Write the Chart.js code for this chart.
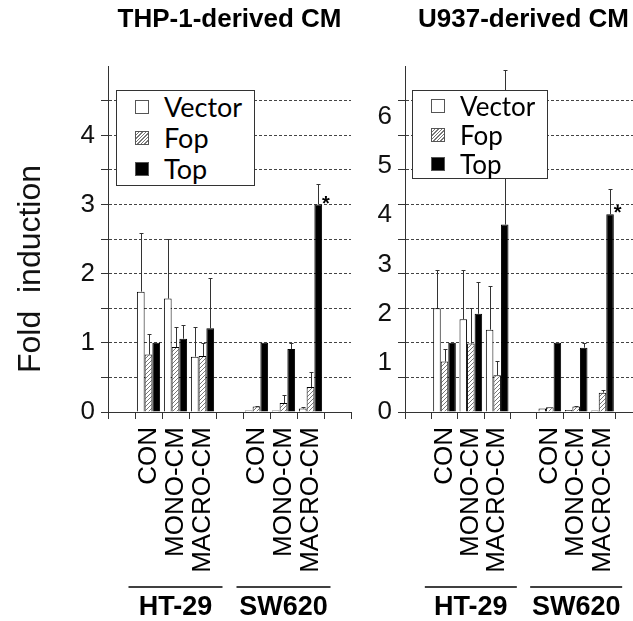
<!DOCTYPE html>
<html lang="en">
<head>
<meta charset="utf-8">
<title>Fold induction - THP-1 / U937 derived CM</title>
<script src="https://cdn.jsdelivr.net/npm/chart.js"></script>
<style>
    html, body {
        margin: 0;
        padding: 0;
        background: #fff;
        overflow: hidden;
    }
    #wrap {
        position: relative;
        width: 633px;
        height: 621px;
        overflow: hidden;
        font-family: 'Liberation Sans', Arial, sans-serif;
    }
    canvas {
        position: absolute;
        top: 0;
    }
    #chartL { left: 0; }
    #chartR { left: 360px; }
    .ytitle {
        position: absolute;
        left: -121px;
        top: 253px;
        width: 300px;
        height: 32px;
        line-height: 32px;
        font-size: 32px;
        text-align: center;
        white-space: pre;
        color: #111;
        transform: rotate(-90deg);
    }
    .legend {
        position: absolute;
        background: #fff;
        border: 1px solid #333;
        box-sizing: border-box;
        font-family: Lato, 'Open Sans', sans-serif;
        color: #000;
    }
    .legend-item {
        display: flex;
        align-items: center;
    }
    .legend-color {
        width: 14px;
        height: 14px;
        border: 1px solid #555;
        box-sizing: border-box;
        margin-right: 15px;
    }
</style>
</head>
<body>
<div id="wrap">
    <canvas id="chartL" width="391" height="621"></canvas>
    <canvas id="chartR" width="322" height="621"></canvas>
    <div class="ytitle">Fold  induction</div>
    <div class="legend" id="legendL" style="left:116px;top:90px;width:139px;height:96px;padding:0 0 0 18px;font-size:27px;"></div>
    <div class="legend" id="legendR" style="left:412px;top:90px;width:136px;height:89px;padding:0 0 0 18px;font-size:26px;"></div>
</div>

<script>
// categories: empty slots at the ends and between the two cell lines
const categories = ['', 'CON', 'MONO-CM', 'MACRO-CM', '', 'CON', 'MONO-CM', 'MACRO-CM', ''];
const seriesNames = ['Vector', 'Fop', 'Top'];
const groupNames = ['HT-29', 'SW620'];
const groupSpans = [[1, 3], [5, 7]];

// THP-1-derived CM
const vecL    = [null, 1.74, 1.64, 0.80, null, 0.02, 0.02, 0.05, null];
const vecErrL = [null, 0.85, 0.86, 0.43, null, 0, 0, 0.02, null];
const fopL    = [null, 0.83, 0.94, 0.81, null, 0.08, 0.13, 0.36, null];
const fopErrL = [null, 0.30, 0.29, 0.19, null, 0.01, 0.11, 0.22, null];
const topL    = [null, 1.00, 1.06, 1.21, null, 1.00, 0.91, 3.00, null];
const topErrL = [null, 0, 0.20, 0.73, null, 0, 0.09, 0.29, null];
const starsL  = [7];

// U937-derived CM
const vecR    = [null, 1.50, 1.34, 1.19, null, 0.05, 0.03, 0.02, null];
const vecErrR = [null, 0.55, 0.72, 0.63, null, 0, 0, 0, null];
const fopR    = [null, 0.73, 0.99, 0.53, null, 0.07, 0.08, 0.28, null];
const fopErrR = [null, 0.18, 0.52, 0.21, null, 0, 0.01, 0.04, null];
const topR    = [null, 1.00, 1.42, 2.71, null, 1.00, 0.93, 2.86, null];
const topErrR = [null, 0, 0.46, 2.23, null, 0, 0.07, 0.36, null];
const starsR  = [7];

// tick labels
const leftTickLabels = [0, 1, 2, 3, 4];
const rightTickLabels = [0, 1, 2, 3, 4, 5, 6];
const yMax = 5;
const yStep = 0.5;
// the printed labels on the U937 panel are not spaced like its gridlines
const rightLabelMax = 7.03;

Chart.defaults.font.family = "'Liberation Sans', Arial, sans-serif";
Chart.defaults.color = '#111';

function makeHatch() {
    const c = document.createElement('canvas');
    c.width = 4; c.height = 4;
    const g = c.getContext('2d');
    g.fillStyle = '#fff';
    g.fillRect(0, 0, 4, 4);
    g.strokeStyle = '#777';
    g.lineWidth = 1;
    g.beginPath();
    g.moveTo(0, 4); g.lineTo(4, 0);
    g.moveTo(-1, 1); g.lineTo(1, -1);
    g.moveTo(3, 5); g.lineTo(5, 3);
    g.stroke();
    return g.createPattern(c, 'repeat');
}
const hatch = makeHatch();

// upper error bars + significance stars
const errorBarPlugin = {
    id: 'errorBars',
    afterDatasetsDraw(chart, args, opts) {
        const ctx = chart.ctx;
        const y = chart.scales.y;
        ctx.save();
        ctx.strokeStyle = '#333';
        ctx.lineWidth = 1;
        chart.data.datasets.forEach((ds, i) => {
            const meta = chart.getDatasetMeta(i);
            meta.data.forEach((bar, j) => {
                const v = ds.data[j], e = ds.errors[j];
                if (v == null || !e) return;
                const top = Math.round(y.getPixelForValue(v + e)) + 0.5;
                const x = Math.round(bar.x) + 0.5;
                ctx.beginPath();
                ctx.moveTo(x, bar.y);
                ctx.lineTo(x, top);
                ctx.moveTo(x - 2, top);
                ctx.lineTo(x + 2, top);
                ctx.stroke();
            });
        });
        const last = chart.data.datasets.length - 1;
        const meta = chart.getDatasetMeta(last);
        ctx.fillStyle = '#000';
        ctx.font = 'bold 20px "Liberation Sans", Arial, sans-serif';
        ctx.textAlign = 'left';
        ctx.textBaseline = 'alphabetic';
        opts.stars.forEach(j => {
            const bar = meta.data[j];
            ctx.fillText('*', bar.x + bar.width / 2, bar.y + 5);
        });
        ctx.restore();
    }
};

// cell line group labels under the category labels
const groupPlugin = {
    id: 'groups',
    afterDraw(chart, args, opts) {
        const ctx = chart.ctx;
        const x = chart.scales.x;
        const half = (x.getPixelForValue(1) - x.getPixelForValue(0)) / 2;
        ctx.save();
        ctx.strokeStyle = '#000';
        ctx.lineWidth = 1.5;
        ctx.fillStyle = '#000';
        ctx.font = 'bold 27px "Liberation Sans", Arial, sans-serif';
        ctx.textAlign = 'center';
        ctx.textBaseline = 'middle';
        groupSpans.forEach((span, k) => {
            const l = x.getPixelForValue(span[0]) - half - 6.5;
            const r = x.getPixelForValue(span[1]) + half + 6.5;
            ctx.beginPath();
            ctx.moveTo(l, opts.lineY);
            ctx.lineTo(r, opts.lineY);
            ctx.stroke();
            ctx.fillText(groupNames[k], (l + r) / 2, opts.textY);
        });
        ctx.restore();
    }
};

function datasets(vec, vecErr, fop, fopErr, top, topErr) {
    return [
        { label: seriesNames[0], data: vec, errors: vecErr, backgroundColor: '#fff' },
        { label: seriesNames[1], data: fop, errors: fopErr, backgroundColor: hatch },
        { label: seriesNames[2], data: top, errors: topErr, backgroundColor: '#000' }
    ].map(d => Object.assign(d, {
        borderColor: '#000',
        borderWidth: 1,
        barPercentage: 1,
        categoryPercentage: 0.86
    }));
}

const gridColor = c => (c.tick.value === 0 || c.tick.value === yMax) ? 'rgba(0,0,0,0)' : '#444';
const tickColor = c => (c.tick.value === yMax) ? 'rgba(0,0,0,0)' : '#333';

function xScale() {
    return {
        type: 'category',
        grid: { drawOnChartArea: false, offset: true, tickLength: 7, color: '#333' },
        border: { color: '#333' },
        ticks: {
            autoSkip: false,
            minRotation: 90,
            maxRotation: 90,
            padding: 8,
            color: '#000',
            font: { size: 26 }
        },
        afterFit: s => { s.height = 209; }
    };
}

function yGrid() {
    return {
        min: 0,
        max: yMax,
        grid: { color: gridColor, tickColor: tickColor, tickLength: 7, lineWidth: 1 },
        border: { color: '#333', dash: [3, 2] }
    };
}

function titleOpts(text) {
    return {
        display: true,
        text: text,
        fullSize: false,
        color: '#000',
        font: { size: 26, weight: 'bold' },
        padding: { top: 4, bottom: 31 }
    };
}

// left panel
const yL = yGrid();
yL.weight = 0;
yL.ticks = {
    stepSize: yStep,
    autoSkip: false,
    padding: 6,
    font: { size: 26 },
    callback: v => leftTickLabels.includes(v) ? String(v) : ''
};
yL.afterFit = s => { s.width = 108; };

new Chart(document.getElementById('chartL'), {
    type: 'bar',
    data: { labels: categories, datasets: datasets(vecL, vecErrL, fopL, fopErrL, topL, topErrL) },
    options: {
        responsive: false,
        animation: false,
        layout: { padding: { left: 0, right: 40, top: 0, bottom: 0 } },
        plugins: {
            legend: { display: false },
            tooltip: { enabled: false },
            title: titleOpts('THP-1-derived CM'),
            errorBars: { stars: starsL },
            groups: { lineY: 587, textY: 608 }
        },
        scales: { x: xScale(), y: yL }
    },
    plugins: [errorBarPlugin, groupPlugin]
});

// right panel: gridded axis + separate axis for the printed labels
const yR = yGrid();
yR.weight = 0;
yR.ticks = { stepSize: yStep, display: false };
yR.afterFit = s => { s.width = 7; };

const yLab = {
    display: true,
    position: 'left',
    weight: 1,
    min: 0,
    max: rightLabelMax,
    grid: { display: false, drawTicks: false },
    border: { display: false },
    ticks: { padding: 6, font: { size: 26 }, autoSkip: false },
    afterBuildTicks: s => { s.ticks = rightTickLabels.map(v => ({ value: v })); },
    afterFit: s => { s.width = 38; }
};

new Chart(document.getElementById('chartR'), {
    type: 'bar',
    data: { labels: categories, datasets: datasets(vecR, vecErrR, fopR, fopErrR, topR, topErrR) },
    options: {
        responsive: false,
        animation: false,
        layout: { padding: { left: 0, right: 40, top: 0, bottom: 0 } },
        plugins: {
            legend: { display: false },
            tooltip: { enabled: false },
            title: titleOpts('U937-derived CM'),
            errorBars: { stars: starsR },
            groups: { lineY: 587, textY: 608 }
        },
        scales: { x: xScale(), y: yR, yLab: yLab }
    },
    plugins: [errorBarPlugin, groupPlugin]
});

// legends
function buildLegend(id, rowHeight) {
    const box = document.getElementById(id);
    const fills = ['#fff', 'repeating-linear-gradient(135deg, #fff 0 1.5px, #777 1.5px 2.5px)', '#000'];
    seriesNames.forEach((name, i) => {
        const item = document.createElement('div');
        item.className = 'legend-item';
        item.style.height = rowHeight + 'px';
        item.innerHTML = `<div class="legend-color" style="background:${fills[i]};"></div><span>${name}</span>`;
        box.appendChild(item);
    });
}
buildLegend('legendL', 31);
buildLegend('legendR', 29);
</script>
</body>
</html>
